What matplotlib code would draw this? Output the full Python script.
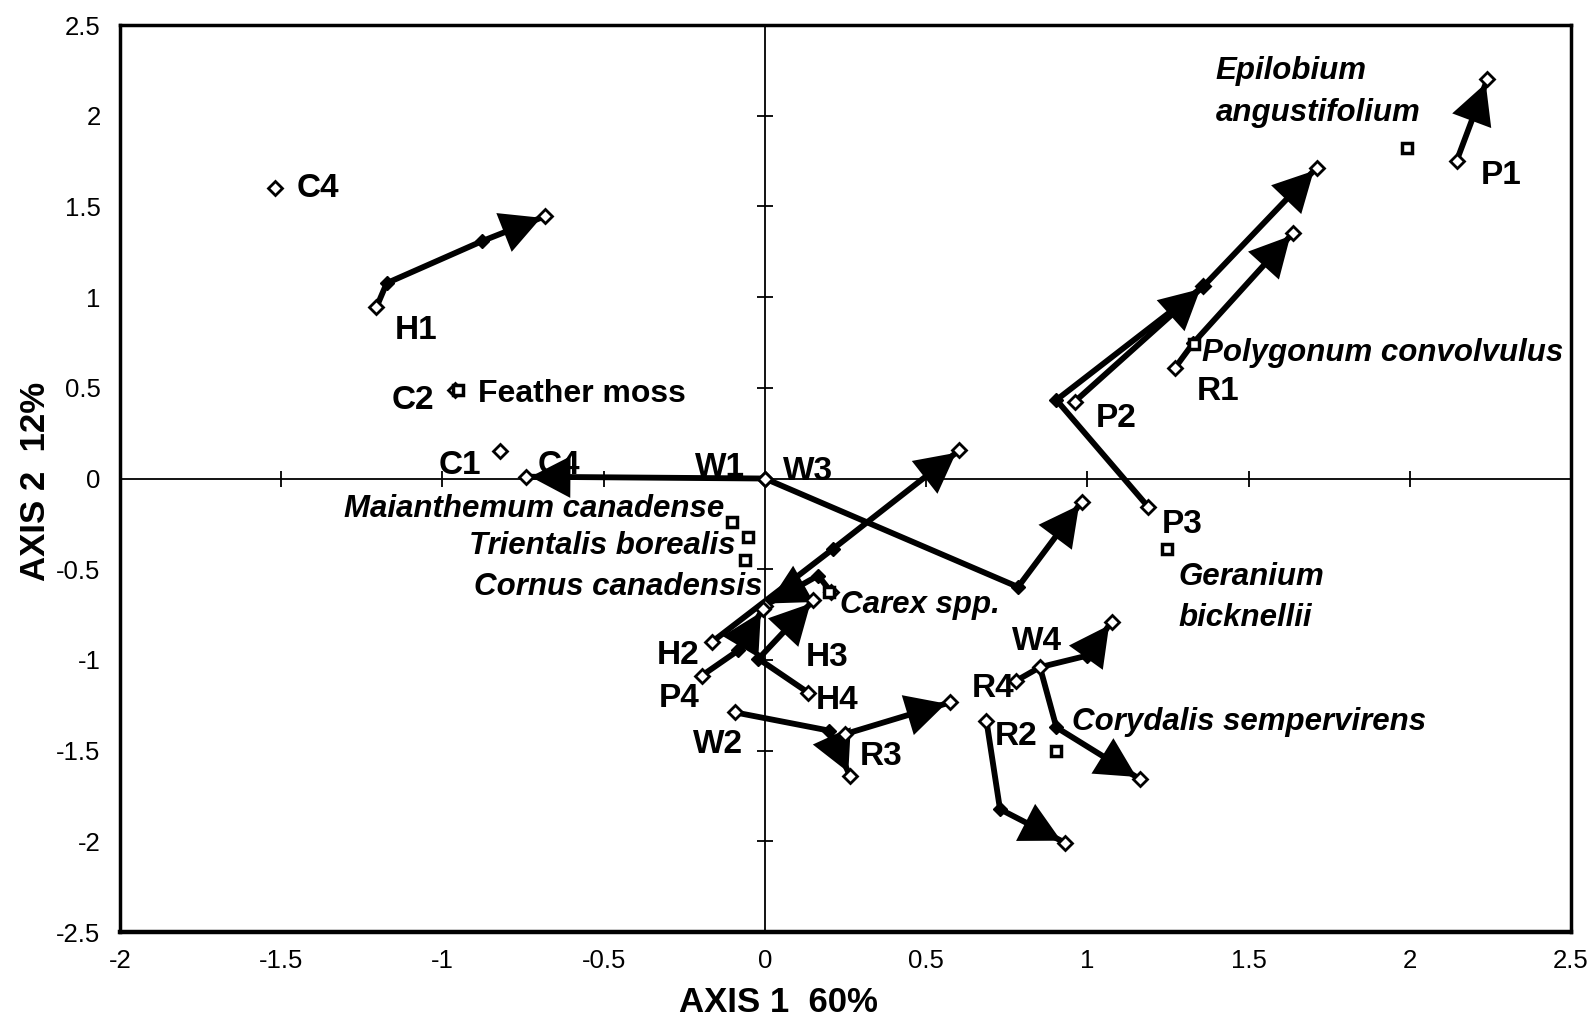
import numpy as np
import matplotlib
matplotlib.use("Agg")
import matplotlib.pyplot as plt
from matplotlib.patches import FancyArrowPatch

plt.rcParams['font.family'] = ['Liberation Sans', 'DejaVu Sans']
plt.rcParams['axes.unicode_minus'] = False

# ---- site trajectories (axis 1 score, axis 2 score), in sampling order ----
H1_x = [-1.205, -1.173, -0.878, -0.682]
H1_y = [0.943, 1.077, 1.308, 1.446]
H2_x = [-0.165, 0.212, 0.603]
H2_y = [-0.902, -0.387, 0.156]
H3_x = [0.205, 0.165, 0.0]
H3_y = [-0.625, -0.535, -0.70]
H4_x = [0.134, -0.02, 0.15]
H4_y = [-1.18, -0.994, -0.672]
P1_x = [2.145, 2.24]
P1_y = [1.75, 2.20]
P2_x = [0.961, 1.36]
P2_y = [0.424, 1.06]
P3_x = [1.189, 0.904, 1.36, 1.711]
P3_y = [-0.157, 0.433, 1.06, 1.713]
P4_x = [-0.196, -0.083, -0.006]
P4_y = [-1.087, -0.948, -0.718]
R1_x = [1.271, 1.328, 1.638]
R1_y = [0.608, 0.746, 1.354]
R2_x = [0.687, 0.729, 0.93]
R2_y = [-1.335, -1.823, -2.007]
R3_x = [0.248, 0.574]
R3_y = [-1.409, -1.234]
R4_x = [0.78, 0.853, 0.904, 1.163]
R4_y = [-1.114, -1.04, -1.372, -1.657]
W1_x = [0.0, -0.74]
W1_y = [0.0, 0.01]
W2_x = [-0.093, 0.20, 0.264]
W2_y = [-1.289, -1.39, -1.64]
W3_x = [0.0, 0.785, 0.982]
W3_y = [0.0, -0.598, -0.129]
W4_x = [0.853, 1.0, 1.075]
W4_y = [-1.04, -0.976, -0.79]

# control sites sampled once
control_names = ["C4", "C1", "C2"]
control_x = [-1.52, -0.822, -0.96]
control_y = [1.60, 0.149, 0.49]

# species scores
species_names = ["Feather moss", "Maianthemum canadense", "Trientalis borealis",
                 "Cornus canadensis", "Carex spp.", "Geranium\nbicknellii",
                 "Corydalis sempervirens", "Polygonum convolvulus",
                 "Epilobium\nangustifolium"]
species_x = [-0.951, -0.103, -0.052, -0.062, 0.20, 1.247, 0.904, 1.33, 1.99]
species_y = [0.488, -0.239, -0.322, -0.451, -0.625, -0.387, -1.50, 0.74, 1.82]

# site labels
site_names = ["C4", "H1", "C2", "C1", "C4", "W1", "W3", "H2", "H3", "P4", "H4",
              "W2", "R3", "R4", "W4", "R2", "P2", "P3", "R1", "P1"]

xticks = np.arange(-2.0, 2.51, 0.5)
yticks = np.arange(-2.5, 2.51, 0.5)

trajectories = [(H1_x, H1_y), (H2_x, H2_y), (H3_x, H3_y), (H4_x, H4_y),
                (P1_x, P1_y), (P2_x, P2_y), (P3_x, P3_y), (P4_x, P4_y),
                (R1_x, R1_y), (R2_x, R2_y), (R3_x, R3_y), (R4_x, R4_y),
                (W1_x, W1_y), (W2_x, W2_y), (W3_x, W3_y), (W4_x, W4_y)]

# label placement (data coordinates of label centres)
site_label_pos = [(-1.386, 1.597), (-1.082, 0.818), (-1.092, 0.431), (-0.946, 0.072),
                  (-0.639, 0.072), (-0.14, 0.06), (0.133, 0.04), (-0.27, -0.978),
                  (0.194, -0.989), (-0.267, -1.21), (0.223, -1.224), (-0.146, -1.464),
                  (0.36, -1.53), (0.707, -1.155), (0.843, -0.898), (0.78, -1.42),
                  (1.089, 0.33), (1.293, -0.251), (1.405, 0.48), (2.284, 1.669)]
species_label_pos = [(-0.89, 0.464, 'left'), (-0.127, -0.166, 'right'),
                     (-0.09, -0.37, 'right'), (-0.009, -0.597, 'right'),
                     (0.233, -0.696, 'left'), (1.284, -0.655, 'left'),
                     (0.953, -1.343, 'left'), (1.354, 0.69, 'left'),
                     (1.398, 2.13, 'left')]

fig = plt.figure(figsize=(15.94, 10.25), dpi=100)
ax = fig.add_axes([0.0753, 0.0907, 0.9103, 0.8849])
ax.set_xlim(-2, 2.5)
ax.set_ylim(-2.5, 2.5)

ax.set_xticks(xticks)
ax.set_yticks(yticks)
ax.set_xticklabels(['%g' % v for v in xticks])
ax.set_yticklabels(['%g' % v for v in yticks])
ax.tick_params(axis='both', length=0, labelsize=18.5)
ax.tick_params(axis='y', pad=14)
ax.tick_params(axis='x', pad=12)
for s in ax.spines.values():
    s.set_linewidth(2.5)
ax.spines['bottom'].set_linewidth(3.2)

# crossing zero axes with cross ticks
ax.axhline(0, color='black', lw=1.3, zorder=1)
ax.axvline(0, color='black', lw=1.3, zorder=1)
ax.plot(xticks, np.zeros_like(xticks), ls='none', marker='|', ms=11, mew=1.3,
        color='black', zorder=1)
ax.plot(np.zeros_like(yticks), yticks, ls='none', marker='_', ms=11, mew=1.3,
        color='black', zorder=1)

# trajectories with arrowheads on the last step
for xs, ys in trajectories:
    ax.plot(xs, ys, color='black', lw=4.2, solid_joinstyle='round',
            solid_capstyle='round', zorder=3)
    head = FancyArrowPatch((xs[-2], ys[-2]), (xs[-1], ys[-1]),
                           arrowstyle='-|>,head_length=1.15,head_width=0.6',
                           mutation_scale=25, color='black', lw=0,
                           shrinkA=0, shrinkB=3, zorder=4)
    ax.add_patch(head)
    if len(xs) > 2:
        ax.plot(xs[1:-1], ys[1:-1], ls='none', marker='D', ms=7.5,
                color='black', zorder=5)
    ax.plot([xs[0], xs[-1]], [ys[0], ys[-1]], ls='none', marker='D', ms=7,
            mfc='white', mec='black', mew=2, zorder=5)

ax.plot(control_x, control_y, ls='none', marker='D', ms=7, mfc='white',
        mec='black', mew=2, zorder=5)

ax.plot(species_x, species_y, ls='none', marker='s', ms=7, mfc='white',
        mec='black', mew=2.5, zorder=6)

for name, (lx, ly) in zip(site_names, site_label_pos):
    ax.text(lx, ly, name, fontsize=24, fontweight='bold', ha='center',
            va='center', zorder=7)

for name, (lx, ly, ha) in zip(species_names, species_label_pos):
    style = 'normal' if name == "Feather moss" else 'italic'
    size = 23 if name == "Feather moss" else 22.5
    ax.text(lx, ly, name, fontsize=size, fontweight='bold', fontstyle=style,
            ha=ha, va='center', linespacing=1.5, zorder=7)

ax.set_xlabel("AXIS 1  60%", fontsize=25, fontweight='bold')
ax.set_ylabel("AXIS 2  12%", fontsize=25, fontweight='bold')
ax.xaxis.set_label_coords(0.454, -0.078)
ax.xaxis.label.set_verticalalignment('center')
ax.yaxis.set_label_coords(-0.058, 0.497)
ax.yaxis.label.set_verticalalignment('center')

fig.savefig("out.png", dpi=100, facecolor='white')
